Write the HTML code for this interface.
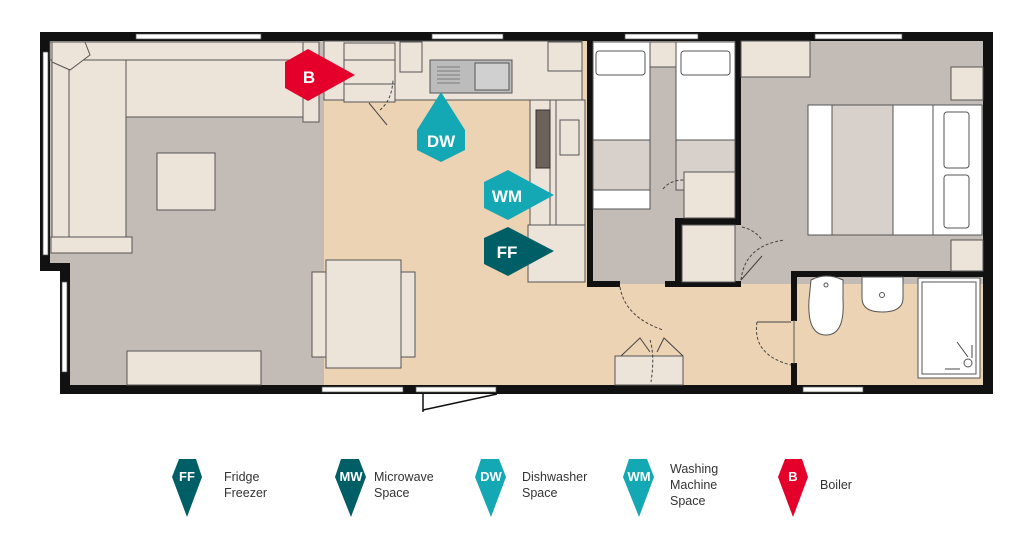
<!DOCTYPE html>
<html><head><meta charset="utf-8"><style>
html,body{margin:0;padding:0;background:#fff;width:1024px;height:546px;overflow:hidden}
svg{display:block}
text{font-family:"Liberation Sans",sans-serif}
</style></head><body>
<svg width="1024" height="546" viewBox="0 0 1024 546" xmlns="http://www.w3.org/2000/svg">
<!-- floors -->
<rect x="48" y="40" width="276" height="346" fill="#c3bbb5"/>
<rect x="40" y="271" width="20" height="125" fill="#fff"/>
<rect x="324" y="40" width="266" height="346" fill="#ecd3b4"/>
<rect x="590" y="282" width="202" height="104" fill="#ecd3b4"/>
<rect x="792" y="275" width="192" height="111" fill="#ecd3b4"/>
<rect x="590" y="40" width="394" height="244" fill="#c3bbb5"/>
<!-- walls -->
<g fill="#111">
<rect x="40" y="32" width="953" height="9"/>
<rect x="40" y="32" width="10" height="238"/>
<rect x="40" y="263" width="30" height="8"/>
<rect x="60" y="263" width="10" height="131"/>
<rect x="60" y="385" width="933" height="9"/>
<rect x="983" y="32" width="10" height="362"/>
<rect x="587" y="40" width="6" height="247"/>
<rect x="735" y="40" width="6" height="178"/>
<rect x="675" y="218" width="66" height="7"/>
<rect x="675" y="218" width="7" height="69"/>
<rect x="587" y="281" width="33" height="6"/>
<rect x="665" y="281" width="76" height="6"/>
<rect x="791" y="271" width="192" height="6"/>
<rect x="791" y="271" width="6" height="50"/>
<rect x="791" y="363" width="6" height="25"/>
</g>
<line x1="794" y1="320" x2="794" y2="364" stroke="#555" stroke-width="1"/>
<!-- windows -->
<g fill="#fff" stroke="#555" stroke-width="0.7">
<rect x="136" y="34" width="125" height="5"/><rect x="432" y="34" width="71" height="5"/>
<rect x="625" y="34" width="73" height="5"/><rect x="815" y="34" width="87" height="5"/>
<rect x="43" y="52" width="5" height="203"/><rect x="62" y="282" width="5" height="90"/>
<rect x="322" y="387" width="81" height="5"/><rect x="416" y="387" width="80" height="5"/>
<rect x="803" y="387" width="60" height="5"/>
</g>
<path d="M423 394 L423 412 M423 410 L497 394" stroke="#111" stroke-width="1.5" fill="none"/>
<!-- furniture -->
<g fill="#ede4d9" stroke="#555" stroke-width="1">
<rect x="50" y="42" width="269" height="18"/>
<rect x="303" y="42" width="16" height="80"/>
<rect x="126" y="60" width="177" height="57"/>
<rect x="52" y="60" width="17" height="177"/>
<rect x="69" y="60" width="57" height="177"/>
<path d="M52 42 L85 42 L90 55 L70 70 L52 62 Z"/>
<rect x="51" y="237" width="81" height="16"/>
<rect x="157" y="153" width="58" height="57"/>
<rect x="127" y="351" width="134" height="34"/>
<rect x="312" y="272" width="14" height="85"/>
<rect x="401" y="272" width="14" height="85"/>
<rect x="326" y="260" width="75" height="108"/>
<rect x="324" y="41" width="258" height="59"/>
<rect x="344" y="43" width="51" height="59"/>
<rect x="344" y="60" width="51" height="24" fill="none"/>
<rect x="400" y="42" width="22" height="30"/>
<rect x="548" y="42" width="34" height="29"/>
<rect x="530" y="100" width="55" height="182"/>
<rect x="550" y="100" width="6" height="125"/>
<rect x="560" y="120" width="19" height="35"/>
<rect x="528" y="225" width="57" height="57"/>
<rect x="741" y="41" width="69" height="36"/>
<rect x="951" y="67" width="32" height="33"/>
<rect x="951" y="240" width="32" height="31"/>
<rect x="684" y="172" width="51" height="46"/>
<rect x="682" y="225" width="53" height="57"/>
<rect x="615" y="356" width="68" height="29"/>
</g>
<rect x="430" y="60" width="82" height="33" fill="#bcbcbc" stroke="#555"/>
<rect x="475" y="63" width="34" height="27" fill="#d0d0d0" stroke="#555"/>
<g stroke="#666" stroke-width="0.8"><line x1="437" y1="67" x2="460" y2="67"/><line x1="437" y1="71" x2="460" y2="71"/><line x1="437" y1="75" x2="460" y2="75"/><line x1="437" y1="79" x2="460" y2="79"/><line x1="437" y1="83" x2="460" y2="83"/></g>
<rect x="536" y="110" width="14" height="58" fill="#6b625c" stroke="#333"/>
<!-- beds -->
<g stroke="#555" stroke-width="1">
<rect x="593" y="42" width="57" height="167" fill="#fff"/>
<rect x="593" y="140" width="57" height="50" fill="#d8d0ca"/>
<rect x="596" y="51" width="49" height="24" rx="3" fill="#fff"/>
<rect x="676" y="42" width="59" height="148" fill="#fff"/>
<rect x="676" y="140" width="59" height="50" fill="#d8d0ca"/>
<rect x="681" y="51" width="49" height="24" rx="3" fill="#fff"/>
<rect x="684" y="172" width="51" height="46" fill="#ede4d9"/>
<rect x="650" y="42" width="26" height="25" fill="#ede4d9"/>
<rect x="808" y="105" width="174" height="130" fill="#fff"/>
<rect x="832" y="105" width="61" height="130" fill="#d8d0ca"/>
<line x1="933" y1="105" x2="933" y2="235"/>
<rect x="944" y="112" width="25" height="56" rx="3" fill="#fff"/>
<rect x="944" y="175" width="25" height="53" rx="3" fill="#fff"/>
<rect x="918" y="278" width="62" height="100" fill="#fff"/>
<rect x="922" y="282" width="54" height="92" fill="#fff"/>
<path d="M811 280 Q826 272 843 280 L843 300 Q845 335 826 335 Q807 335 809 300 Z" fill="#fff"/>
<path d="M862 277 L903 277 L903 298 Q903 312 882 312 Q862 312 862 298 Z" fill="#fff"/>
</g>
<circle cx="826" cy="285" r="2" fill="none" stroke="#555"/>
<circle cx="882" cy="295" r="2.5" fill="none" stroke="#555"/>
<circle cx="968" cy="363" r="4" fill="none" stroke="#555"/>
<!-- door swings -->
<g fill="none" stroke="#444" stroke-width="1" stroke-dasharray="3,2">
<path d="M380 110 Q392 100 393 80"/>
<path d="M620 287 Q625 317 663 330"/>
<path d="M757 322 Q752 355 791 365"/>
<path d="M742 227 Q755 230 762 240"/>
<path d="M741 280 Q745 245 785 240"/>
<path d="M663 189 Q670 180 684 180"/>
<path d="M650 340 Q655 355 651 382"/>
</g>
<g fill="none" stroke="#444" stroke-width="1">
<path d="M369 103 L387 125"/>
<path d="M621 356 L640 338 L650 352 M683 356 L664 338 L657 352"/>
<path d="M757 322 L791 322"/>
<path d="M741 280 L762 256"/>
<path d="M957 342 L968 357 M960 369 L945 369 M972 345 L972 358"/>
</g>
<!-- markers -->
<polygon points="308,49 355,75 308,101 285,88 285,62" fill="#e4002b"/>
<text x="309" y="83" font-size="17" font-weight="bold" fill="#fff" text-anchor="middle">B</text>
<polygon points="441,92 465,130 465,150 441,162 417,150 417,130" fill="#13a8b4"/>
<text x="441" y="147" font-size="17" font-weight="bold" fill="#fff" text-anchor="middle">DW</text>
<polygon points="508,170 554,195 508,220 484,208 484,182" fill="#13a8b4"/>
<text x="507" y="202" font-size="17" font-weight="bold" fill="#fff" text-anchor="middle">WM</text>
<polygon points="508,227 554,251 508,276 484,264 484,238" fill="#005f66"/>
<text x="507" y="258" font-size="17" font-weight="bold" fill="#fff" text-anchor="middle">FF</text>
<!-- legend -->
<g font-size="12.5" fill="#333">
<polygon points="179,459 196,459 202,477 187,517 172,477" fill="#005f66"/>
<text x="187" y="481" font-size="13" font-weight="bold" fill="#fff" text-anchor="middle">FF</text>
<text x="224" y="481">Fridge</text><text x="224" y="497">Freezer</text>
<polygon points="341,459 359,459 366,477 351,517 335,477" fill="#005f66"/>
<text x="351" y="481" font-size="13" font-weight="bold" fill="#fff" text-anchor="middle">MW</text>
<text x="374" y="481">Microwave</text><text x="374" y="497">Space</text>
<polygon points="481,459 499,459 506,477 491,517 475,477" fill="#13a8b4"/>
<text x="491" y="481" font-size="13" font-weight="bold" fill="#fff" text-anchor="middle">DW</text>
<text x="522" y="481">Dishwasher</text><text x="522" y="497">Space</text>
<polygon points="629,459 647,459 654,477 639,517 623,477" fill="#13a8b4"/>
<text x="639" y="481" font-size="13" font-weight="bold" fill="#fff" text-anchor="middle">WM</text>
<text x="670" y="473">Washing</text><text x="670" y="489">Machine</text><text x="670" y="505">Space</text>
<polygon points="785,459 802,459 808,477 793,517 778,477" fill="#e4002b"/>
<text x="793" y="481" font-size="13" font-weight="bold" fill="#fff" text-anchor="middle">B</text>
<text x="820" y="489">Boiler</text>
</g>
</svg>
</body></html>
